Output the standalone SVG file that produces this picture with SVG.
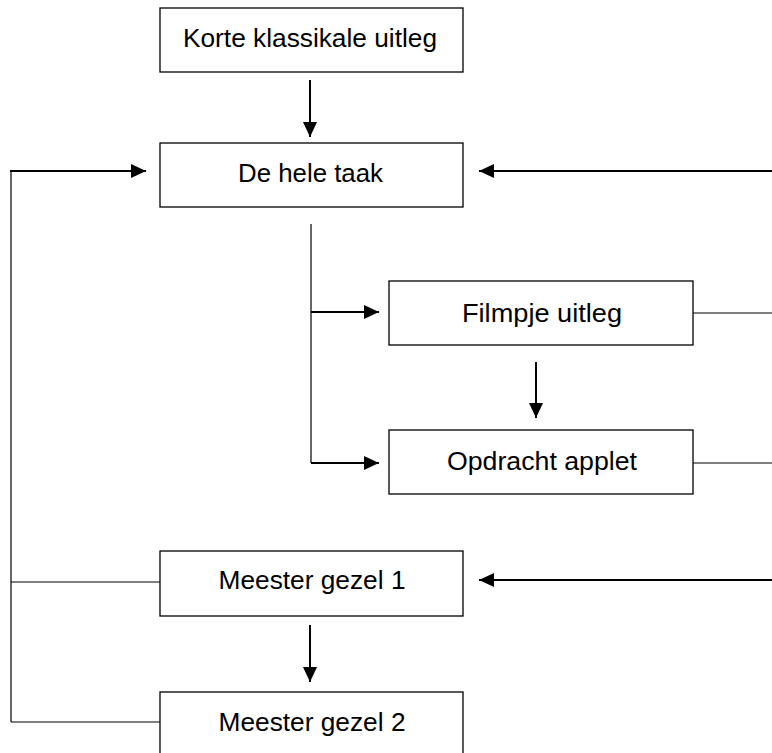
<svg xmlns="http://www.w3.org/2000/svg" width="772" height="753" viewBox="0 0 772 753">
<style>
.box{fill:#fff;stroke:#000;stroke-width:1.3}
.lbl{font-family:"Liberation Sans",Arial,sans-serif;font-size:25px;fill:#000;text-anchor:middle}
.arr{stroke:#000;stroke-width:2;fill:none;marker-end:url(#ah)}
.thin{stroke:#000;stroke-width:1.2;fill:none}
</style>
<defs>
<marker id="ah" markerUnits="userSpaceOnUse" markerWidth="16" markerHeight="16" refX="15" refY="7" orient="auto">
<path d="M0,0 L15,7 L0,14 Z" fill="#000"/>
</marker>
</defs>
<g id="connectors">
<line class="arr" x1="310" y1="80" x2="310" y2="137"/>
<polyline class="thin" points="311,224 311,463"/>
<line class="arr" x1="311" y1="312" x2="379" y2="312"/>
<line class="arr" x1="311" y1="463" x2="379" y2="463"/>
<line class="arr" x1="536" y1="362" x2="536" y2="418"/>
<line class="thin" x1="693" y1="313" x2="772" y2="313"/>
<line class="thin" x1="693" y1="463" x2="772" y2="463"/>
<line class="arr" x1="772" y1="171" x2="479" y2="171"/>
<line class="arr" x1="772" y1="580" x2="479" y2="580"/>
<line class="arr" x1="310" y1="625" x2="310" y2="682"/>
<polyline class="thin" points="11,722 11,171"/>
<line class="arr" x1="10" y1="171" x2="146" y2="171"/>
<line class="thin" x1="11" y1="582" x2="160" y2="582"/>
<line class="thin" x1="11" y1="722" x2="160" y2="722"/>
</g>
<g id="n-korte">
<rect class="box" x="160" y="8" width="303" height="64"/>
<text class="lbl" x="310" y="47" textLength="254" lengthAdjust="spacingAndGlyphs">Korte klassikale uitleg</text>
</g>
<g id="n-hele">
<rect class="box" x="160" y="143" width="303" height="64"/>
<text class="lbl" x="310.5" y="182" textLength="145" lengthAdjust="spacingAndGlyphs">De hele taak</text>
</g>
<g id="n-filmpje">
<rect class="box" x="389" y="281" width="304" height="64"/>
<text class="lbl" x="542" y="322" textLength="160" lengthAdjust="spacingAndGlyphs">Filmpje uitleg</text>
</g>
<g id="n-opdracht">
<rect class="box" x="389" y="430" width="304" height="64"/>
<text class="lbl" x="542" y="470" textLength="190" lengthAdjust="spacingAndGlyphs">Opdracht applet</text>
</g>
<g id="n-meester1">
<rect class="box" x="160" y="551" width="303" height="65"/>
<text class="lbl" x="312" y="589" textLength="187" lengthAdjust="spacingAndGlyphs">Meester gezel 1</text>
</g>
<g id="n-meester2">
<rect class="box" x="160" y="692" width="303" height="70"/>
<text class="lbl" x="312" y="731" textLength="187" lengthAdjust="spacingAndGlyphs">Meester gezel 2</text>
</g>
</svg>
